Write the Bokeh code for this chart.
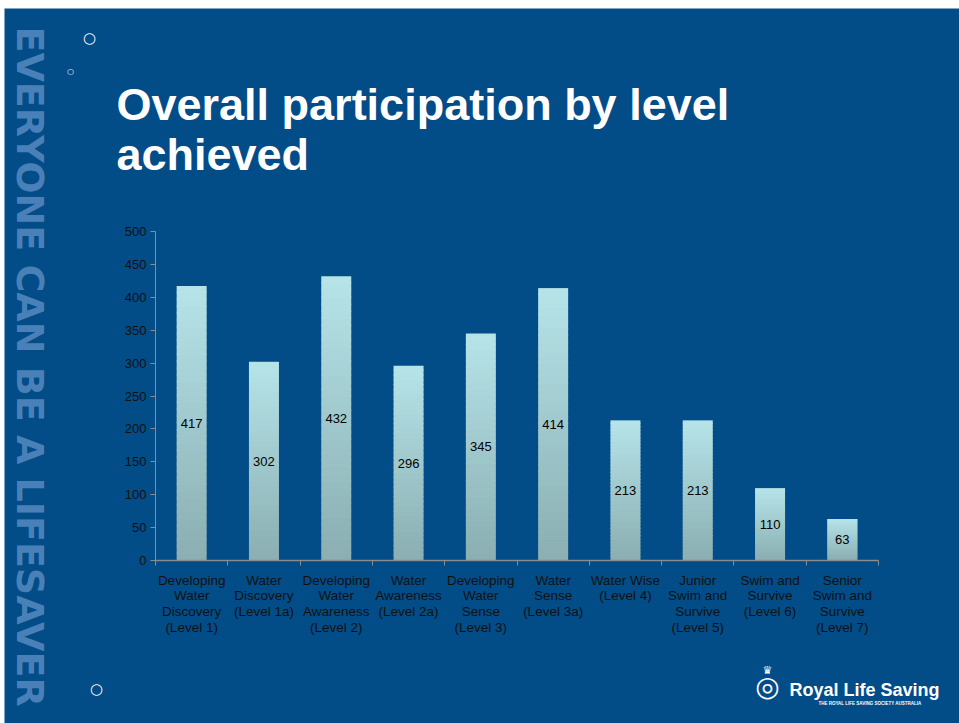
import math
from bokeh.plotting import figure
from bokeh.models import (Range1d, LinearAxis, FixedTicker, Label, ColumnDataSource)
from bokeh.core.properties import value
from bokeh.embed import file_html
from bokeh.resources import INLINE

# ---------------- data ----------------
categories = [
    "Developing\nWater\nDiscovery\n(Level 1)",
    "Water\nDiscovery\n(Level 1a)",
    "Developing\nWater\nAwareness\n(Level 2)",
    "Water\nAwareness\n(Level 2a)",
    "Developing\nWater\nSense\n(Level 3)",
    "Water\nSense\n(Level 3a)",
    "Water Wise\n(Level 4)",
    "Junior\nSwim and\nSurvive\n(Level 5)",
    "Swim and\nSurvive\n(Level 6)",
    "Senior\nSwim and\nSurvive\n(Level 7)",
]
participants = [417, 302, 432, 296, 345, 414, 213, 213, 110, 63]
y_ticks = [0, 50, 100, 150, 200, 250, 300, 350, 400, 450, 500]
title_lines = ["Overall participation by level", "achieved"]
side_text = "EVERYONE CAN BE A LIFESAVER"

# ---------------- style ----------------
BG = "#024C88"
FONT = "Liberation Sans"
AXIS_GREY = "#8C8C8C"
TICK_TEXT = "#111111"
TOP_RGB = (182, 228, 233)
BOT_RGB = (138, 174, 177)

n = len(categories)
centers = [i + 0.5 for i in range(n)]
bounds = list(range(n + 1))
Y_MAX = y_ticks[-1]

# page pixel -> data coords (chart area: x 155..878 px, y 560..231 px)
X0_PX, X1_PX, Y0_PX, Y1_PX = 155, 878, 560, 231
def dx(px):
    return (px - X0_PX) * n / (X1_PX - X0_PX)

def dy(py):
    return (Y0_PX - py) * Y_MAX / (Y0_PX - Y1_PX)

W, H = 955, 715
p = figure(width=W, height=H, output_backend="svg", toolbar_location=None,
           x_range=Range1d(dx(4), dx(959)), y_range=Range1d(dy(723), dy(8)),
           x_axis_location=None, y_axis_location=None,
           min_border=0, min_border_left=0, min_border_right=0,
           min_border_top=0, min_border_bottom=0,
           background_fill_color=BG, border_fill_color=BG,
           outline_line_color=None)
p.margin = (8, 0, 0, 4)
p.xgrid.visible = False
p.ygrid.visible = False

# y axis at x = 0
yax = LinearAxis(ticker=FixedTicker(ticks=y_ticks), fixed_location=0,
                 bounds=(0, Y_MAX))
yax.axis_line_color = AXIS_GREY
yax.major_tick_line_color = AXIS_GREY
yax.major_tick_out = 5
yax.major_tick_in = 0
yax.minor_tick_line_color = None
yax.major_label_text_font = FONT
yax.major_label_text_font_size = "13px"
yax.major_label_text_color = TICK_TEXT
yax.major_label_standoff = 4
p.add_layout(yax, "left")

# x axis at y = 0: labels at category centres, tick marks at category boundaries
cax = LinearAxis(ticker=FixedTicker(ticks=centers, minor_ticks=bounds),
                 major_label_overrides={c: lab for c, lab in zip(centers, categories)},
                 fixed_location=0, bounds=(0, n))
cax.axis_line_color = AXIS_GREY
cax.axis_line_width = 1.5
cax.major_tick_line_color = None
cax.major_tick_out = 0
cax.major_tick_in = 0
cax.minor_tick_line_color = AXIS_GREY
cax.minor_tick_out = 5
cax.minor_tick_in = 0
cax.major_label_text_font = FONT
cax.major_label_text_font_size = "13.5px"
cax.major_label_text_color = TICK_TEXT
cax.major_label_text_line_height = 1.05
cax.major_label_standoff = 7
p.add_layout(cax, "below")

# gradient bars built from overlapping segments
N = 40
xs, bots, tops, cols = [], [], [], []
for c, v in zip(centers, participants):
    for k in range(N):
        t = (k + 0.5) / N
        r = round(BOT_RGB[0] + (TOP_RGB[0] - BOT_RGB[0]) * t)
        g = round(BOT_RGB[1] + (TOP_RGB[1] - BOT_RGB[1]) * t)
        b = round(BOT_RGB[2] + (TOP_RGB[2] - BOT_RGB[2]) * t)
        xs.append(c)
        bots.append(v * k / N)
        tops.append(min(v, v * (k + 1) / N + 1.5))
        cols.append("#%02x%02x%02x" % (r, g, b))
src = ColumnDataSource(dict(x=xs, bottom=bots, top=tops, color=cols))
p.vbar(x="x", bottom="bottom", top="top", width=0.415, source=src,
       fill_color="color", line_color=None)

# value labels at mid-bar
lsrc = ColumnDataSource(dict(x=centers, y=[v / 2 for v in participants],
                             t=[str(v) for v in participants]))
p.text(x="x", y="y", text="t", source=lsrc, text_align="center",
       text_baseline="middle", text_font=value(FONT), text_font_size="13px",
       text_color="#000000")

def add_label(px, py, text, **kw):
    p.add_layout(Label(x=dx(px), y=dy(py), text=text, **kw))

# title
for line, base in zip(title_lines, [104, 154]):
    add_label(116, base, line, text_font=FONT, text_font_size="45px",
              text_font_style="bold", text_color="white", text_baseline="alphabetic")

# vertical side text
add_label(29, 26, side_text, angle=-math.pi / 2, text_align="left",
          text_baseline="middle", text_font="DejaVu Sans", text_font_size="38px",
          text_font_style="bold", text_color="#4A80B8")

# decorative bubbles
for (bx, by, sz) in [(89, 37, "15px"), (70, 71, "8px"), (96, 688, "15px")]:
    add_label(bx, by, "\u25cb", text_align="center", text_baseline="middle",
              text_font="DejaVu Sans", text_font_size=sz, text_color="white")

# logo
add_label(767, 686, "\u25ce", text_align="center", text_baseline="middle",
          text_font="DejaVu Sans", text_font_size="28px", text_color="white")
add_label(767, 670, "\u265b", text_align="center", text_baseline="middle",
          text_font="DejaVu Sans", text_font_size="11px", text_color="white")
add_label(789, 689, "Royal Life Saving", text_font=FONT, text_font_size="18px",
          text_font_style="bold", text_color="white", text_baseline="alphabetic")
add_label(818, 703, "THE ROYAL LIFE SAVING SOCIETY AUSTRALIA", text_font=FONT,
          text_font_size="4.5px", text_font_style="bold", text_color="white",
          text_baseline="alphabetic")

open("out.html", "w").write(file_html(p, INLINE))
